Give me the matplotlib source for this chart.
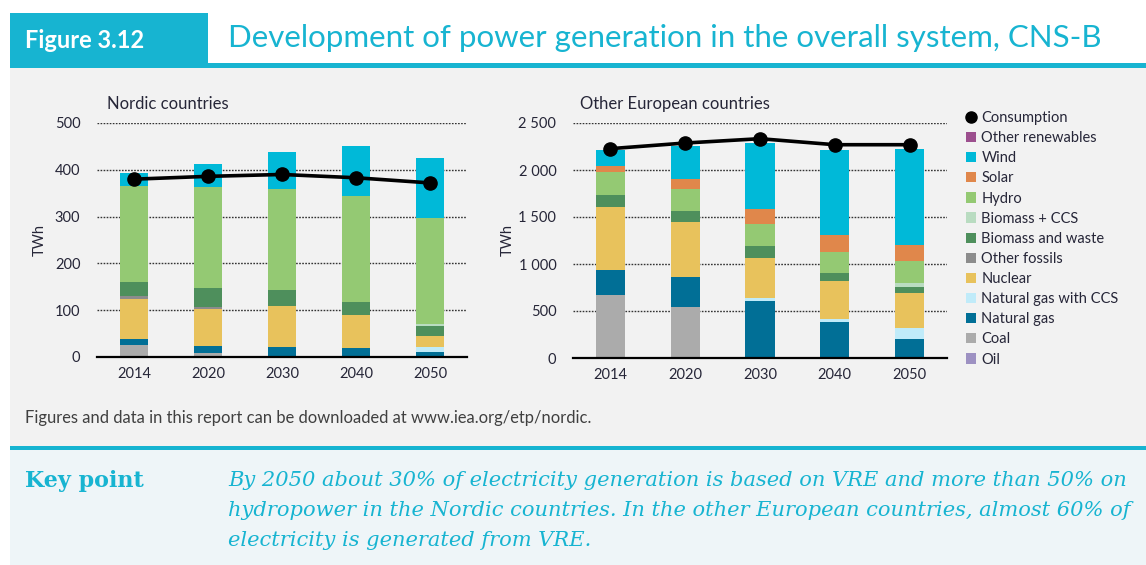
import matplotlib
matplotlib.use("Agg")
import matplotlib.pyplot as plt
from matplotlib.patches import Rectangle, Patch
from matplotlib.lines import Line2D
import numpy as np

W, H = 1146, 565

years = ["2014", "2020", "2030", "2040", "2050"]

series_names = ["Oil", "Coal", "Natural gas", "Natural gas with CCS", "Nuclear",
                "Other fossils", "Biomass and waste", "Biomass + CCS", "Hydro",
                "Solar", "Wind", "Other renewables"]

# Nordic countries (TWh)
nordic_oil = [0, 0, 0, 0, 0]
nordic_coal = [25, 9, 3, 1, 0]
nordic_gas = [14, 15, 18, 19, 11]
nordic_gas_ccs = [0, 0, 0, 0, 10]
nordic_nuclear = [86, 79, 87, 69, 23]
nordic_other_fossils = [5, 3, 1, 0, 0]
nordic_biomass = [31, 42, 34, 29, 23]
nordic_biomass_ccs = [0, 0, 0, 0, 3]
nordic_hydro = [205, 215, 217, 225, 227]
nordic_solar = [0, 0, 0, 0, 1]
nordic_wind = [27, 50, 77, 108, 127]
nordic_other_ren = [0, 0, 0, 0, 0]
nordic_consumption = [380, 386, 390, 383, 372]

# Other European countries (TWh)
europe_oil = [0, 0, 0, 0, 0]
europe_coal = [675, 542, 0, 0, 0]
europe_gas = [262, 316, 610, 387, 199]
europe_gas_ccs = [0, 0, 28, 24, 120]
europe_nuclear = [667, 585, 426, 412, 372]
europe_other_fossils = [0, 0, 0, 0, 0]
europe_biomass = [135, 117, 131, 81, 61]
europe_biomass_ccs = [0, 0, 0, 0, 46]
europe_hydro = [237, 238, 234, 224, 230]
europe_solar = [64, 103, 156, 180, 178]
europe_wind = [170, 358, 702, 901, 1021]
europe_other_ren = [0, 0, 0, 0, 0]
europe_consumption = [2227, 2287, 2333, 2269, 2269]

nordic_yticks = [0, 100, 200, 300, 400, 500]
nordic_yticklabels = ["0", "100", "200", "300", "400", "500"]
europe_yticks = [0, 500, 1000, 1500, 2000, 2500]
europe_yticklabels = ["0", "500", "1 000", "1 500", "2 000", "2 500"]

colors = {
    "Other renewables": "#9c4f8e",
    "Wind": "#00b9d8",
    "Solar": "#e0874b",
    "Hydro": "#94c973",
    "Biomass + CCS": "#b9dcc1",
    "Biomass and waste": "#4e8f5c",
    "Other fossils": "#8c8c8c",
    "Nuclear": "#e8c25c",
    "Natural gas with CCS": "#c0ebf9",
    "Natural gas": "#016f96",
    "Coal": "#ababab",
    "Oil": "#9d91c2",
}

nordic = [nordic_oil, nordic_coal, nordic_gas, nordic_gas_ccs, nordic_nuclear,
          nordic_other_fossils, nordic_biomass, nordic_biomass_ccs, nordic_hydro,
          nordic_solar, nordic_wind, nordic_other_ren]
europe = [europe_oil, europe_coal, europe_gas, europe_gas_ccs, europe_nuclear,
          europe_other_fossils, europe_biomass, europe_biomass_ccs, europe_hydro,
          europe_solar, europe_wind, europe_other_ren]

TEAL = "#17b4d1"
TXT = "#262638"
FONT = "Lato"

fig = plt.figure(figsize=(W / 100, H / 100), dpi=100)
fig.patch.set_facecolor("white")


def fx(px):
    return px / W


def fy(py):
    return 1 - py / H


def rect(x0, y0, x1, y1, color):
    fig.patches.append(Rectangle((fx(x0), fy(y1)), fx(x1) - fx(x0), fy(y0) - fy(y1),
                                 transform=fig.transFigure, facecolor=color,
                                 edgecolor="none", zorder=-10))


# backgrounds
rect(10, 67, W, 446, "#f2f2f2")
rect(10, 63, W, 68, TEAL)
rect(10, 13, 208, 68, TEAL)
rect(10, 446, W, 450, TEAL)
rect(10, 450, W, H, "#eef5f8")

fig.text(fx(25), fy(40), "Figure 3.12", color="white", fontsize=17, fontweight="bold",
         family=FONT, va="center", ha="left")
fig.text(fx(228), fy(38), "Development of power generation in the overall system, CNS-B",
         color=TEAL, fontsize=22.5, family=FONT, va="center", ha="left")

fig.text(fx(25), fy(418), "Figures and data in this report can be downloaded at www.iea.org/etp/nordic.",
         color="#404040", fontsize=11.9, family=FONT, va="center", ha="left")
fig.text(fx(25), fy(481), "Key point", color=TEAL, fontsize=16, fontweight="bold",
         family="DejaVu Serif", va="center", ha="left")
key_lines = [
    "By 2050 about 30% of electricity generation is based on VRE and more than 50% on",
    "hydropower in the Nordic countries. In the other European countries, almost 60% of",
    "electricity is generated from VRE.",
]
for i, line in enumerate(key_lines):
    fig.text(fx(228), fy(481 + 30 * i), line, color=TEAL, fontsize=15.1, style="italic",
             family="DejaVu Serif", va="center", ha="left")


def draw_panel(ax, data, consumption, ymax, yticks, yticklabels, title, title_x, ylabel_x):
    x = np.arange(len(years))
    bottom = np.zeros(len(years))
    for name, vals in zip(series_names, data):
        vals = np.array(vals, dtype=float)
        ax.bar(x, vals, width=0.39, bottom=bottom, color=colors[name], edgecolor="none",
               zorder=3)
        bottom += vals
    ax.plot(x, consumption, color="black", lw=2.6, marker="o", markersize=9.5, zorder=5,
            solid_capstyle="round")
    ax.set_xlim(-0.5, 4.5)
    ax.set_ylim(0, ymax)
    ax.set_yticks(yticks)
    ax.set_yticklabels(yticklabels)
    ax.set_xticks(x)
    ax.set_xticklabels(years)
    ax.tick_params(length=0, labelsize=10.5, labelcolor=TXT)
    for lab in ax.get_xticklabels() + ax.get_yticklabels():
        lab.set_family(FONT)
    ax.tick_params(axis="y", pad=12)
    ax.tick_params(axis="x", pad=7)
    for s in ax.spines.values():
        s.set_visible(False)
    ax.set_facecolor("none")
    ax.yaxis.grid(True, color="#333333", linestyle=(0, (1.2, 1.0)), lw=1.0, zorder=1)
    ax.set_axisbelow(True)
    ax.axhline(0, color="black", lw=1.6, zorder=6, clip_on=False)
    fig.text(fx(title_x), fy(104), title, fontsize=12, color=TXT, family=FONT,
             va="center", ha="left")
    fig.text(fx(ylabel_x), (ax.get_position().y0 + ax.get_position().y1) / 2, "TWh",
             rotation=90, fontsize=10.5, color=TXT, family=FONT, va="center", ha="center")


ax1 = fig.add_axes([fx(97), fy(357), fx(467) - fx(97), fy(123) - fy(357)])
draw_panel(ax1, nordic, nordic_consumption, 500, nordic_yticks, nordic_yticklabels,
           "Nordic countries", 107, 40)

ax2 = fig.add_axes([fx(573), fy(358), fx(947) - fx(573), fy(123) - fy(358)])
draw_panel(ax2, europe, europe_consumption, 2500, europe_yticks, europe_yticklabels,
           "Other European countries", 580, 508)

handles = [Line2D([], [], color="black", marker="o", linestyle="none", markersize=8)]
labels = ["Consumption"]
for name in reversed(series_names):
    handles.append(Patch(facecolor=colors[name], edgecolor="none"))
    labels.append(name)

leg = fig.legend(handles, labels, loc="upper left", bbox_to_anchor=(fx(966), fy(111)),
                 frameon=False, handlelength=0.7, handleheight=0.7, handletextpad=0.35,
                 labelspacing=0.42, prop={"family": FONT, "size": 10.5}, borderaxespad=0,
                 borderpad=0)
for t in leg.get_texts():
    t.set_color(TXT)

fig.savefig("out.png", dpi=100)
